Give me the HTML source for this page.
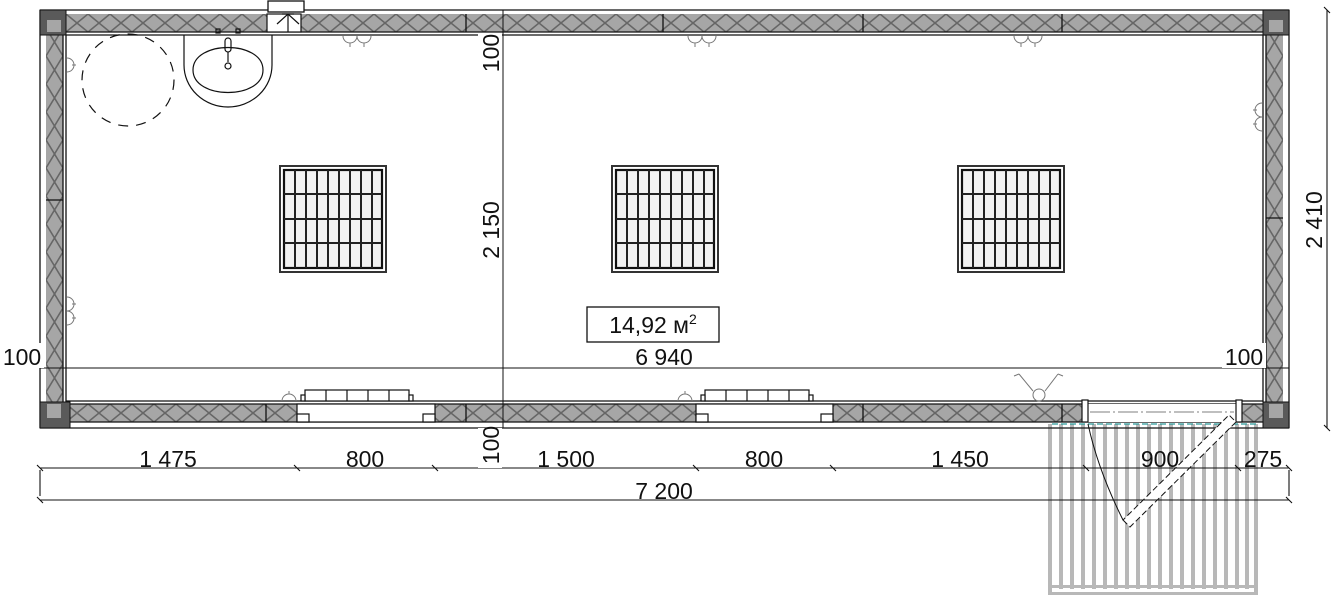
<!DOCTYPE html>
<html><head><meta charset="utf-8"><style>
html,body{margin:0;padding:0;background:#fff;}
svg{display:block;}
text{font-family:"Liberation Sans",Arial,sans-serif;font-size:23px;fill:#111;}
</style></head><body>
<svg width="1332" height="597" viewBox="0 0 1332 597" xmlns="http://www.w3.org/2000/svg">
<defs>
<pattern id="hx" width="22" height="18" patternUnits="userSpaceOnUse" x="0" y="14">
<rect width="22" height="18" fill="#a6a6a6"/>
<path d="M0 0 L22 18 M22 0 L0 18" stroke="#666" stroke-width="1.6"/>
</pattern>
<pattern id="hxb" width="22" height="18" patternUnits="userSpaceOnUse" x="0" y="404">
<rect width="22" height="18" fill="#a6a6a6"/>
<path d="M0 0 L22 18 M22 0 L0 18" stroke="#666" stroke-width="1.6"/>
</pattern>
<pattern id="vx" width="17" height="28" patternUnits="userSpaceOnUse" x="46" y="0">
<rect width="17" height="28" fill="#a6a6a6"/>
<path d="M0 0 L17 28 M17 0 L0 28" stroke="#666" stroke-width="1.6"/>
</pattern>
<pattern id="vxr" width="17" height="28" patternUnits="userSpaceOnUse" x="1266" y="0">
<rect width="17" height="28" fill="#a6a6a6"/>
<path d="M0 0 L17 28 M17 0 L0 28" stroke="#666" stroke-width="1.6"/>
</pattern>
</defs>

<!-- porch -->
<g fill="#b8b8b8">
<rect x="1048" y="424" width="4" height="171"/>
<rect x="1254" y="424" width="4" height="171"/>
<rect x="1059" y="424" width="4" height="165"/><rect x="1070" y="424" width="4" height="165"/>
<rect x="1081" y="424" width="4" height="165"/><rect x="1092" y="424" width="4" height="165"/>
<rect x="1103" y="424" width="4" height="165"/><rect x="1114" y="424" width="4" height="165"/>
<rect x="1125" y="424" width="4" height="165"/><rect x="1136" y="424" width="4" height="165"/>
<rect x="1147" y="424" width="4" height="165"/><rect x="1158" y="424" width="4" height="165"/>
<rect x="1169" y="424" width="4" height="165"/><rect x="1180" y="424" width="4" height="165"/>
<rect x="1191" y="424" width="4" height="165"/><rect x="1202" y="424" width="4" height="165"/>
<rect x="1213" y="424" width="4" height="165"/><rect x="1224" y="424" width="4" height="165"/>
<rect x="1235" y="424" width="4" height="165"/><rect x="1245" y="424" width="4" height="165"/>
<rect x="1048" y="585" width="210" height="3"/>
<rect x="1048" y="592" width="210" height="3"/>
</g>
<line x1="1052" y1="424" x2="1256" y2="424" stroke="#2a9a9a" stroke-width="1.2" stroke-dasharray="6,3"/>

<!-- walls -->
<rect x="40" y="14" width="1249" height="18" fill="url(#hx)"/>
<rect x="40" y="404" width="1249" height="18" fill="url(#hxb)"/>
<rect x="46" y="14" width="17" height="408" fill="url(#vx)"/>
<rect x="1266" y="14" width="17" height="408" fill="url(#vxr)"/>
<g stroke="#111" stroke-width="1.3" fill="none">
<line x1="40" y1="10" x2="1289" y2="10"/>
<line x1="66" y1="32" x2="1266" y2="32"/>
<line x1="66" y1="35" x2="1266" y2="35"/>
<line x1="40" y1="10" x2="40" y2="428"/>
<line x1="63" y1="35" x2="63" y2="402"/>
<line x1="66" y1="35" x2="66" y2="402"/>
<line x1="1289" y1="10" x2="1289" y2="428"/>
<line x1="1266" y1="35" x2="1266" y2="402"/>
<line x1="1263" y1="35" x2="1263" y2="402"/>
<line x1="66" y1="401" x2="1263" y2="401"/>
<line x1="66" y1="404" x2="1263" y2="404"/>
<line x1="40" y1="428" x2="1289" y2="428"/>
<line x1="66" y1="422" x2="1266" y2="422"/>
<line x1="503" y1="10" x2="503" y2="428" stroke-width="1"/>
<line x1="40" y1="368" x2="1289" y2="368" stroke-width="1"/>
<line x1="46" y1="200" x2="63" y2="200"/>
<line x1="1266" y1="218" x2="1283" y2="218"/>
<line x1="466" y1="14" x2="466" y2="32"/><line x1="663" y1="14" x2="663" y2="32"/>
<line x1="863" y1="14" x2="863" y2="32"/><line x1="1062" y1="14" x2="1062" y2="32"/>
<line x1="466" y1="404" x2="466" y2="422"/><line x1="266" y1="404" x2="266" y2="422"/>
<line x1="863" y1="404" x2="863" y2="422"/><line x1="1062" y1="404" x2="1062" y2="422"/>
</g>
<!-- corners -->
<g fill="#5a5a5a" stroke="#111" stroke-width="1">
<rect x="40" y="10" width="26" height="25"/>
<rect x="1263" y="10" width="26" height="25"/>
<rect x="40" y="402" width="30" height="26"/>
<rect x="1263" y="402" width="26" height="26"/>
</g>
<rect x="47" y="20" width="14" height="12" fill="#a6a6a6"/>
<rect x="1269" y="20" width="14" height="12" fill="#a6a6a6"/>
<rect x="47" y="404" width="14" height="14" fill="#a6a6a6"/>
<rect x="1269" y="404" width="14" height="14" fill="#a6a6a6"/>

<!-- vent top -->
<rect x="268" y="1" width="36" height="11" fill="#fff" stroke="#111" stroke-width="1.3"/>
<rect x="267" y="14" width="34" height="18" fill="#fff" stroke="#111" stroke-width="1.2"/>
<path d="M282 14 L294 14 M277 24 L288 14 L299 24 M288 14 L288 32" stroke="#111" fill="none" stroke-width="1.2"/>

<!-- bottom windows -->
<g stroke="#111" stroke-width="1.2" fill="#fff">
<rect x="297" y="404" width="138" height="18"/>
<rect x="297" y="414" width="12" height="8"/><rect x="423" y="414" width="12" height="8"/>
<rect x="305" y="390" width="104" height="11"/>
<rect x="301" y="395" width="4" height="6"/><rect x="409" y="395" width="4" height="6"/>
<path d="M326 390V401M347 390V401M368 390V401M389 390V401" fill="none"/>
<rect x="696" y="404" width="137" height="18"/>
<rect x="696" y="414" width="12" height="8"/><rect x="821" y="414" width="12" height="8"/>
<rect x="705" y="390" width="104" height="11"/>
<rect x="701" y="395" width="4" height="6"/><rect x="809" y="395" width="4" height="6"/>
<path d="M726 390V401M747 390V401M768 390V401M789 390V401" fill="none"/>
<rect x="1088" y="404" width="148" height="18" stroke="none"/>
<rect x="1082" y="400" width="6" height="22"/><rect x="1236" y="400" width="6" height="22"/>
</g>
<line x1="1090" y1="412" x2="1234" y2="412" stroke="#555" stroke-width="0.8" stroke-dasharray="20,3,2,3"/>
<path d="M1088 424 Q1098 470 1123 520" stroke="#111" fill="none" stroke-width="1"/>
<path d="M1123 520 L1130 527 L1236 422 L1229 415 Z" stroke="#111" fill="#fff" stroke-width="1" stroke-dasharray="6,3"/>

<!-- sockets -->
<g stroke="#777" fill="none" stroke-width="1">
<path d="M343 36 a7 7 0 0 0 14 0 M357 36 a7 7 0 0 0 14 0 M350 43v4 M364 43v4"/>
<path d="M688 36 a7 7 0 0 0 14 0 M702 36 a7 7 0 0 0 14 0 M695 43v4 M709 43v4"/>
<path d="M1014 36 a7 7 0 0 0 14 0 M1028 36 a7 7 0 0 0 14 0 M1021 43v4 M1035 43v4"/>
<path d="M67 58 a7 7 0 0 1 0 14 M72 65h4"/>
<path d="M67 297 a7 7 0 0 1 0 14 M67 311 a7 7 0 0 1 0 14 M72 304h4 M72 318h4"/>
<path d="M1262 103 a7 7 0 0 0 0 14 M1262 117 a7 7 0 0 0 0 14 M1257 110h-4 M1257 124h-4"/>
<path d="M282 401 a7 7 0 0 1 14 0 M289 394v-3"/>
<path d="M678 401 a7 7 0 0 1 14 0 M685 394v-3"/>
<circle cx="1039" cy="395" r="6"/>
<path d="M1033 391 L1019 374 M1045 391 L1058 374 M1019 374l-5 2 M1058 374l5 2"/>
</g>

<!-- dashed circle -->
<circle cx="128" cy="80" r="46" fill="none" stroke="#111" stroke-width="1.2" stroke-dasharray="10,8"/>

<!-- sink -->
<g stroke="#111" stroke-width="1.2" fill="none">
<path d="M184 35 V65 A44 42 0 0 0 272 65 V35"/>
<path d="M193 70 C193 40 263 40 263 70 C263 100 193 100 193 70 Z"/>
<rect x="216" y="29" width="4" height="4"/><rect x="236" y="29" width="4" height="4"/>
<rect x="225" y="38" width="6" height="14" rx="3"/>
<line x1="228" y1="52" x2="228" y2="62"/>
<circle cx="228" cy="66" r="3"/>
</g>

<!-- grid windows -->
<g>
<rect x="280" y="166" width="106" height="106" fill="#fff" stroke="#333" stroke-width="2"/>
<rect x="284" y="170" width="98" height="98" fill="#f2f2f2" stroke="#111" stroke-width="2.2"/>
<path d="M295 170V268M306 170V268M317 170V268M328 170V268M339 170V268M350 170V268M361 170V268M372 170V268M284 194H382M284 219H382M284 243H382" stroke="#222" stroke-width="2"/>
<rect x="612" y="166" width="106" height="106" fill="#fff" stroke="#333" stroke-width="2"/>
<rect x="616" y="170" width="98" height="98" fill="#f2f2f2" stroke="#111" stroke-width="2.2"/>
<path d="M627 170V268M638 170V268M649 170V268M660 170V268M671 170V268M682 170V268M693 170V268M704 170V268M616 194H714M616 219H714M616 243H714" stroke="#222" stroke-width="2"/>
<rect x="958" y="166" width="106" height="106" fill="#fff" stroke="#333" stroke-width="2"/>
<rect x="962" y="170" width="98" height="98" fill="#f2f2f2" stroke="#111" stroke-width="2.2"/>
<path d="M973 170V268M984 170V268M995 170V268M1006 170V268M1017 170V268M1028 170V268M1039 170V268M1050 170V268M962 194H1060M962 219H1060M962 243H1060" stroke="#222" stroke-width="2"/>
</g>

<!-- area box -->
<rect x="587" y="307" width="132" height="35" fill="#fff" stroke="#111" stroke-width="1.3"/>
<text x="653" y="333" text-anchor="middle" font-size="22">14,92 м<tspan font-size="14" dy="-9">2</tspan></text>

<!-- dims -->
<g stroke="#111" stroke-width="1.1">
<line x1="40" y1="468" x2="1289" y2="468"/>
<line x1="40" y1="500" x2="1289" y2="500"/>
<line x1="40" y1="470" x2="40" y2="496"/>
<line x1="1289" y1="470" x2="1289" y2="496"/>
<line x1="1327" y1="10" x2="1327" y2="428"/>
<path d="M37 465l6 6M294 465l6 6M432 465l6 6M693 465l6 6M830 465l6 6M1083 465l6 6M1235 465l6 6M1286 465l6 6M37 497l6 6M1286 497l6 6M1324 7l6 6M1324 425l6 6"/>
</g>
<rect x="0" y="343" width="44" height="25" fill="#fff"/>
<rect x="1222" y="343" width="44" height="25" fill="#fff"/>
<rect x="478" y="33" width="24" height="42" fill="#fff"/>
<rect x="478" y="428" width="24" height="40" fill="#fff"/>
<text x="168" y="467" text-anchor="middle">1 475</text>
<text x="365" y="467" text-anchor="middle">800</text>
<text x="566" y="467" text-anchor="middle">1 500</text>
<text x="764" y="467" text-anchor="middle">800</text>
<text x="960" y="467" text-anchor="middle">1 450</text>
<text x="1160" y="467" text-anchor="middle">900</text>
<text x="1263" y="467" text-anchor="middle">275</text>
<text x="664" y="499" text-anchor="middle">7 200</text>
<text x="664" y="365" text-anchor="middle">6 940</text>
<text x="22" y="365" text-anchor="middle">100</text>
<text x="1244" y="365" text-anchor="middle">100</text>
<text transform="translate(499,230) rotate(-90)" text-anchor="middle">2 150</text>
<text transform="translate(499,53) rotate(-90)" text-anchor="middle">100</text>
<text transform="translate(499,445) rotate(-90)" text-anchor="middle">100</text>
<text transform="translate(1322,220) rotate(-90)" text-anchor="middle">2 410</text>
</svg>
</body></html>
